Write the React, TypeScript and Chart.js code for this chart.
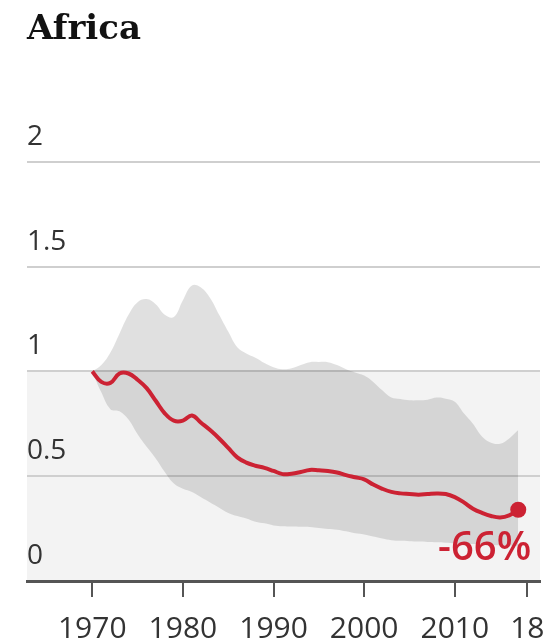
import { useEffect, useRef } from 'react';
import { Chart, registerables } from 'chart.js';

Chart.register(...registerables);

const TITLE = 'Africa';

const YEARS = [
  1970, 1971, 1972, 1973, 1974, 1975, 1976, 1977, 1978, 1979,
  1980, 1981, 1982, 1983, 1984, 1985, 1986, 1987, 1988, 1989,
  1990, 1991, 1992, 1993, 1994, 1995, 1996, 1997, 1998, 1999,
  2000, 2001, 2002, 2003, 2004, 2005, 2006, 2007, 2008, 2009,
  2010, 2011, 2012, 2013, 2014, 2015, 2016, 2017,
];

const MEDIAN = [
  1.0, 0.95, 0.945, 0.99, 0.99, 0.96, 0.92, 0.86, 0.8, 0.765,
  0.765, 0.79, 0.755, 0.72, 0.68, 0.635, 0.59, 0.565, 0.55, 0.54,
  0.525, 0.51, 0.512, 0.52, 0.53, 0.528, 0.525, 0.518, 0.505, 0.495,
  0.485, 0.46, 0.44, 0.425, 0.418, 0.415, 0.412, 0.415, 0.418, 0.415,
  0.4, 0.375, 0.345, 0.325, 0.31, 0.303, 0.313, 0.34,
];

const UPPER = [
  1.0, 1.03, 1.09, 1.18, 1.27, 1.33, 1.345, 1.32, 1.27, 1.26,
  1.34, 1.41, 1.4, 1.35, 1.27, 1.19, 1.115, 1.085, 1.065, 1.04,
  1.02, 1.01, 1.015, 1.03, 1.044, 1.045, 1.044, 1.03, 1.01, 0.995,
  0.98, 0.95, 0.91, 0.875, 0.868, 0.862, 0.862, 0.865, 0.875, 0.87,
  0.855, 0.8, 0.75, 0.69, 0.66, 0.655, 0.68, 0.72,
];

const LOWER = [
  1.0, 0.9, 0.82, 0.81, 0.77, 0.7, 0.64, 0.585, 0.52, 0.465,
  0.44, 0.425, 0.4, 0.375, 0.35, 0.325, 0.31, 0.298, 0.283, 0.275,
  0.265, 0.261, 0.26, 0.259, 0.258, 0.253, 0.248, 0.245, 0.237, 0.228,
  0.222, 0.212, 0.203, 0.195, 0.192, 0.19, 0.188, 0.186, 0.185, 0.183,
  0.18, 0.178, 0.176, 0.174, 0.172, 0.17, 0.168, 0.166,
];

const X_TICK_YEARS = [1970, 1980, 1990, 2000, 2010, 2018];
const X_TICK_LABELS = ['1970', '1980', '1990', '2000', '2010', '18'];
const Y_TICKS = [0, 0.5, 1, 1.5, 2];

const RED = '#cc2233';

export default function App() {
  const ref = useRef<HTMLCanvasElement>(null);

  useEffect(() => {
    if (!ref.current) return;
    const toPts = (arr: number[]) => YEARS.map((x, i) => ({ x, y: arr[i] }));

    const bandBg = {
      id: 'bandBg',
      beforeDraw(chart: any) {
        const { ctx, chartArea, scales } = chart;
        const y = scales.y;
        const t = y.getPixelForValue(1);
        const b = y.getPixelForValue(0);
        ctx.save();
        ctx.fillStyle = '#f3f3f3';
        ctx.fillRect(chartArea.left, t, chartArea.right - chartArea.left, b - t);
        ctx.restore();
      },
    };

    const endLabel = {
      id: 'endLabel',
      afterDatasetsDraw(chart: any) {
        const meta = chart.getDatasetMeta(0);
        const pt = meta.data[meta.data.length - 1];
        if (!pt) return;
        const pct = Math.round((MEDIAN[MEDIAN.length - 1] / MEDIAN[0] - 1) * 100);
        const text = (pct < 0 ? '-' : '+') + Math.abs(pct) + '%';
        const { ctx } = chart;
        ctx.save();
        ctx.fillStyle = RED;
        ctx.font = '600 40px "Open Sans"';
        ctx.textAlign = 'right';
        ctx.textBaseline = 'alphabetic';
        ctx.fillText(text, pt.x + 13, pt.y + 50);
        ctx.restore();
      },
    };

    const chart = new Chart(ref.current, {
      type: 'line',
      data: {
        datasets: [
          {
            label: 'Median',
            data: toPts(MEDIAN),
            borderColor: RED,
            borderWidth: 4,
            pointRadius: (c: any) => (c.dataIndex === MEDIAN.length - 1 ? 8 : 0),
            pointBackgroundColor: RED,
            pointBorderWidth: 0,
            tension: 0.4,
            fill: false,
            order: 0,
          },
          {
            label: 'Upper',
            data: toPts(UPPER),
            borderWidth: 0,
            pointRadius: 0,
            backgroundColor: 'rgba(0,0,0,0.12)',
            fill: '+1',
            tension: 0.4,
            order: 1,
          },
          {
            label: 'Lower',
            data: toPts(LOWER),
            borderWidth: 0,
            pointRadius: 0,
            fill: false,
            tension: 0.4,
            order: 2,
          },
        ],
      } as any,
      options: {
        responsive: false,
        animation: false,
        devicePixelRatio: 1,
        layout: { padding: { left: 27, right: 4, top: 0, bottom: 0 } },
        plugins: {
          legend: { display: false },
          tooltip: { enabled: false },
          title: {
            display: true,
            text: TITLE,
            align: 'start',
            color: '#121212',
            font: { family: 'DejaVu Serif', size: 34, weight: 'bold' },
            padding: { top: 10, bottom: 111 },
          },
        },
        scales: {
          x: {
            type: 'linear',
            min: 1962.8,
            max: 2019.4,
            afterBuildTicks: (s: any) => {
              s.ticks = X_TICK_YEARS.map((v) => ({ value: v }));
            },
            afterFit: (s: any) => {
              s.height = 63;
              s.paddingRight = 0;
              s.paddingLeft = 0;
            },
            ticks: {
              autoSkip: false,
              maxRotation: 0,
              callback: (_v: any, i: number) => X_TICK_LABELS[i],
              color: '#333',
              font: { family: 'Open Sans', size: 30 },
              padding: 14,
            },
            grid: {
              drawOnChartArea: false,
              drawTicks: true,
              tickLength: 16,
              color: '#555',
              lineWidth: 2,
            },
            border: { display: true, color: '#555', width: 3 },
          },
          y: {
            min: 0,
            max: 2,
            afterBuildTicks: (s: any) => {
              s.ticks = Y_TICKS.map((v) => ({ value: v }));
            },
            afterFit: (s: any) => {
              s.width = 0;
            },
            ticks: {
              mirror: true,
              padding: 0,
              labelOffset: -25,
              color: '#333',
              font: { family: 'Open Sans', size: 28 },
              callback: (v: any) => String(v),
            },
            grid: { color: '#cfcfcf', lineWidth: 2, drawTicks: false },
            border: { display: false },
          },
        },
      } as any,
      plugins: [bandBg, endLabel],
    });

    return () => chart.destroy();
  }, []);

  return (
    <div style={{ position: 'absolute', left: 0, top: 0, width: 548, height: 644, background: '#fff' }}>
      <canvas ref={ref} width={548} height={644} style={{ display: 'block' }} />
    </div>
  );
}
